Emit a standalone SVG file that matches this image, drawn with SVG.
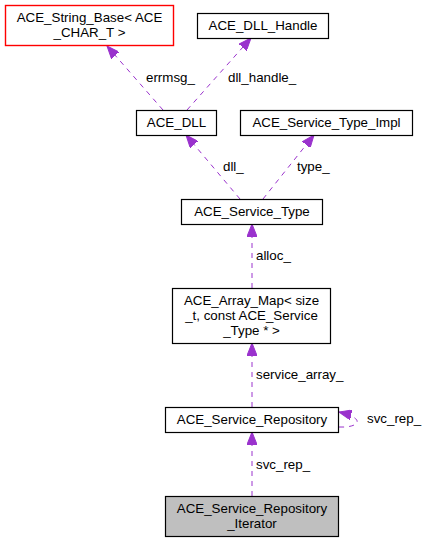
<svg xmlns="http://www.w3.org/2000/svg" width="427" height="543" viewBox="0 0 427 543">
<style>
text{font-family:"Liberation Sans",Arial,sans-serif;font-size:13.33px;fill:#000}
.c{text-anchor:middle}
.box{fill:#fff;stroke:#000;stroke-width:1.2}
.redbox{fill:#fff;stroke:#ff0000;stroke-width:1.4}
.gray{fill:#bfbfbf}
.edge{fill:none;stroke:#9a32cd;stroke-width:1;stroke-dasharray:5,5}
</style>
<defs>
<marker id="ah" markerUnits="userSpaceOnUse" markerWidth="13" markerHeight="10" refX="12.5" refY="5" orient="auto">
<path d="M0,0 L12.5,5 L0,10 z" fill="#9a32cd" stroke="#9a32cd" stroke-width="1"/>
</marker>
</defs>
<rect width="427" height="543" fill="#fff"/>
<g id="connectors">
<line class="edge" x1="163" y1="110" x2="107" y2="46" marker-end="url(#ah)"/>
<text x="146" y="82">errmsg_</text>
<line class="edge" x1="187" y1="110" x2="251" y2="38" marker-end="url(#ah)"/>
<text x="228" y="82">dll_handle_</text>
<line class="edge" x1="240" y1="199" x2="186" y2="135" marker-end="url(#ah)"/>
<text x="223" y="171">dll_</text>
<line class="edge" x1="263" y1="199" x2="314" y2="135" marker-end="url(#ah)"/>
<text x="297" y="171">type_</text>
<line class="edge" x1="252" y1="288" x2="252" y2="224" marker-end="url(#ah)"/>
<text x="256" y="260">alloc_</text>
<line class="edge" x1="252" y1="407" x2="252" y2="343" marker-end="url(#ah)"/>
<text x="256" y="379">service_array_</text>
<path class="edge" d="M339,427 C358,428 368,419 339,412" marker-end="url(#ah)"/>
<text x="367" y="423">svc_rep_</text>
<line class="edge" x1="252" y1="496" x2="252" y2="432" marker-end="url(#ah)"/>
<text x="256" y="469">svc_rep_</text>
</g>
<g id="ACE_String_Base">
<rect class="redbox" x="5.5" y="5.5" width="168" height="40"/>
<text class="c" x="89.5" y="22">ACE_String_Base&lt; ACE</text>
<text class="c" x="89.5" y="37">_CHAR_T &gt;</text>
</g>
<g id="ACE_DLL_Handle">
<rect class="box" x="197.5" y="13.5" width="131" height="25"/>
<text class="c" x="263" y="30">ACE_DLL_Handle</text>
</g>
<g id="ACE_DLL">
<rect class="box" x="136.5" y="110.5" width="80" height="25"/>
<text class="c" x="176.5" y="127">ACE_DLL</text>
</g>
<g id="ACE_Service_Type_Impl">
<rect class="box" x="240.5" y="110.5" width="172" height="25"/>
<text class="c" x="326.5" y="127">ACE_Service_Type_Impl</text>
</g>
<g id="ACE_Service_Type">
<rect class="box" x="181.5" y="199.5" width="141" height="25"/>
<text class="c" x="252" y="216">ACE_Service_Type</text>
</g>
<g id="ACE_Array_Map">
<rect class="box" x="172.5" y="288.5" width="158" height="55"/>
<text class="c" x="251.5" y="305">ACE_Array_Map&lt; size</text>
<text class="c" x="251.5" y="320">_t, const ACE_Service</text>
<text class="c" x="251.5" y="335">_Type * &gt;</text>
</g>
<g id="ACE_Service_Repository">
<rect class="box" x="165.5" y="407.5" width="173" height="25"/>
<text class="c" x="252" y="424">ACE_Service_Repository</text>
</g>
<g id="ACE_Service_Repository_Iterator">
<rect class="box gray" x="165.5" y="496.5" width="173" height="40"/>
<text class="c" x="252" y="513">ACE_Service_Repository</text>
<text class="c" x="252" y="528">_Iterator</text>
</g>
</svg>
